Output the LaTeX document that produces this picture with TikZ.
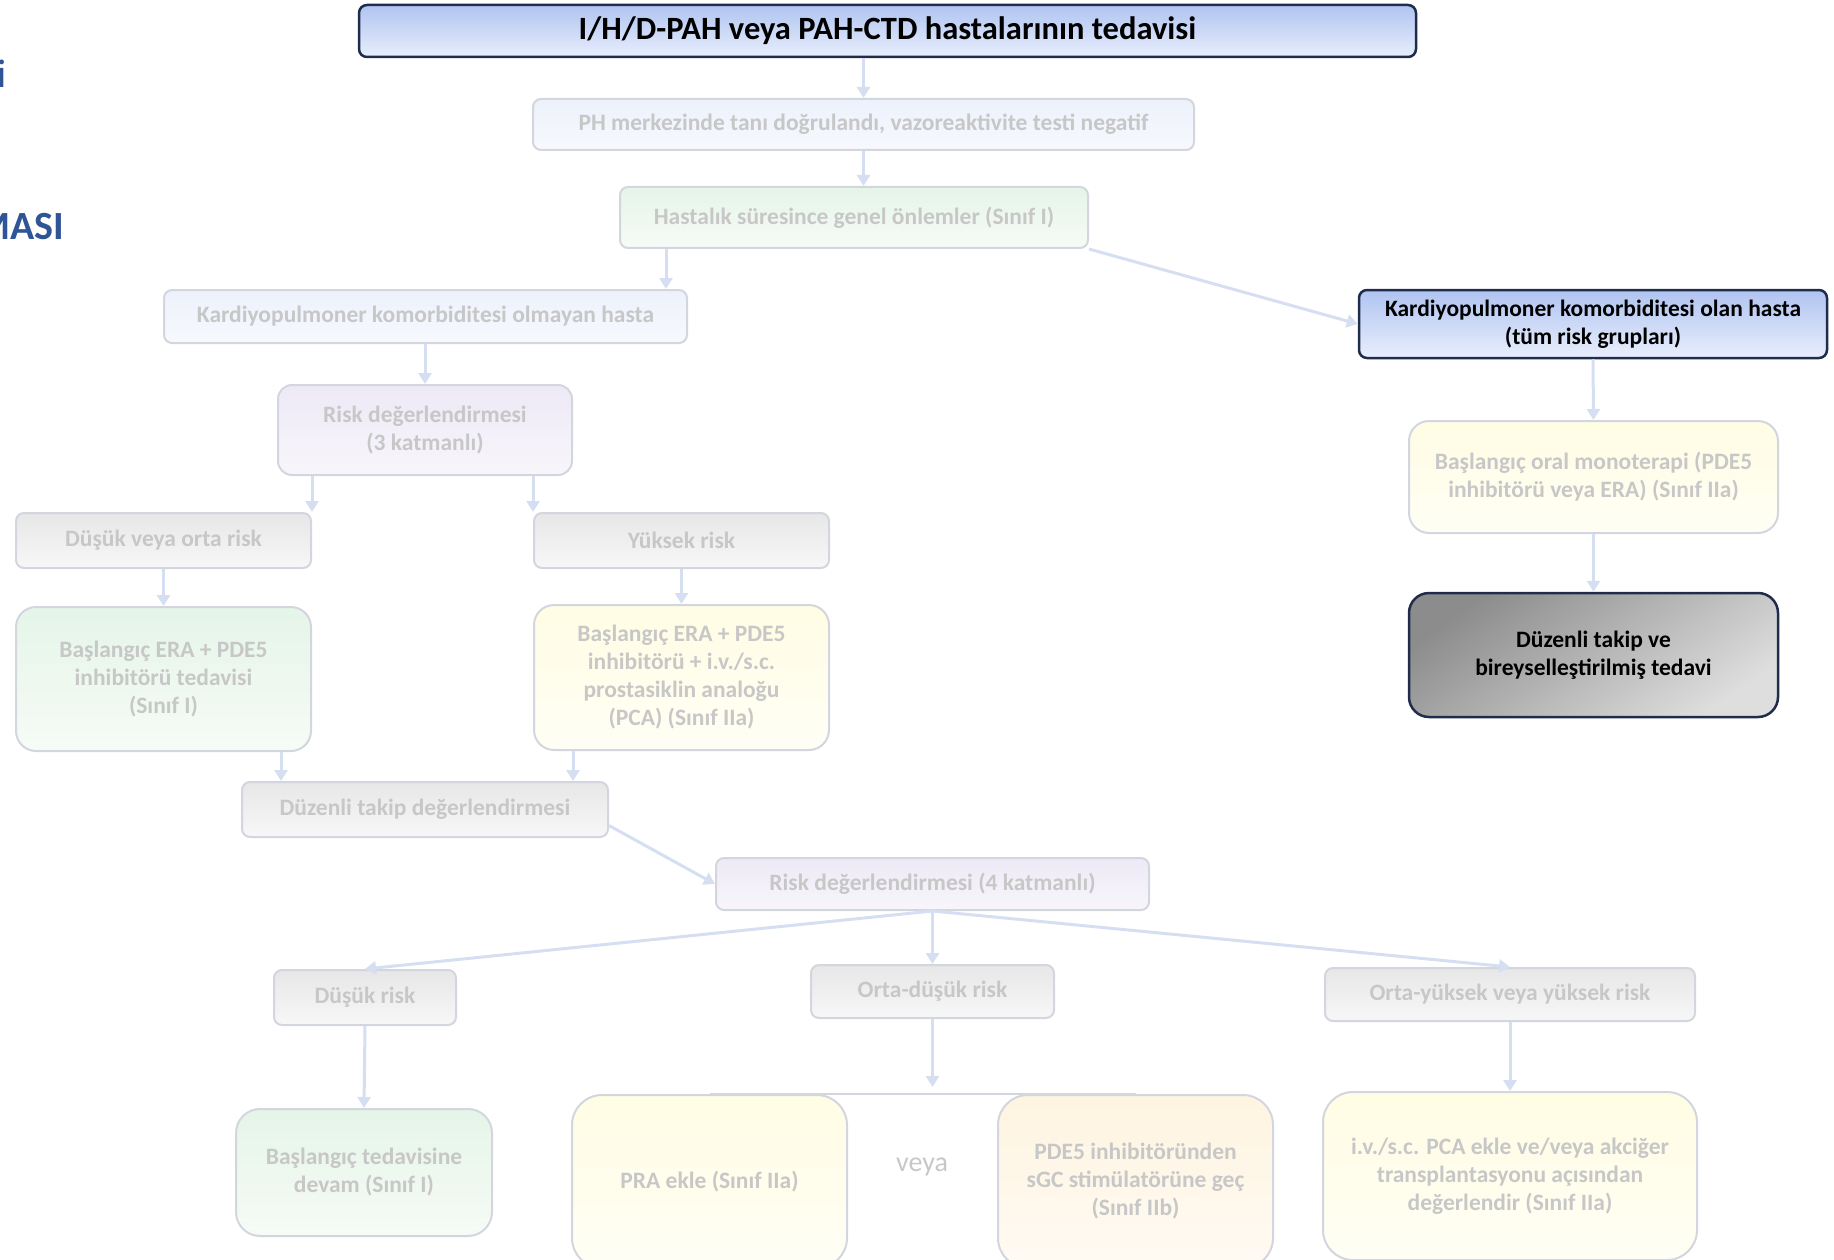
\documentclass[tikz,border=0pt]{standalone}
\usepackage{fontspec}
\setmainfont{Carlito}
\usepackage{xcolor}
\definecolor{arrowblue}{HTML}{D5DFF1}
\definecolor{fadeborder}{HTML}{D3D6DF}
\definecolor{fadetext}{HTML}{C7C7C7}
\definecolor{navyline}{HTML}{1F2C4C}
\definecolor{slideblue}{HTML}{2F5597}
\usetikzlibrary{arrows.meta}
\tikzset{>={Triangle[length=11pt,width=13pt]}}
\tikzset{
  arr/.style={draw=arrowblue, line width=3pt, ->},
  fadebox/.style={rounded corners=8pt, draw=fadeborder, line width=2pt, text=fadetext,
    font=\bfseries\fontsize{23.5}{28}\selectfont, align=center, inner sep=0pt},
  graybox/.style={fadebox, top color={rgb,255:red,231;green,231;blue,231}, bottom color={rgb,255:red,247;green,247;blue,247}},
  greenbox/.style={fadebox, top color={rgb,255:red,229;green,245;blue,232}, bottom color={rgb,255:red,246;green,251;blue,246}},
  yellowbox/.style={fadebox, top color={rgb,255:red,255;green,253;blue,227}, bottom color={rgb,255:red,255;green,254;blue,245}},
  peachbox/.style={fadebox, top color={rgb,255:red,254;green,244;blue,224}, bottom color={rgb,255:red,255;green,250;blue,243}},
  lilacbox/.style={fadebox, top color={rgb,255:red,237;green,233;blue,246}, bottom color={rgb,255:red,248;green,246;blue,251}},
  paleblue/.style={fadebox, top color={rgb,255:red,237;green,241;blue,251}, bottom color={rgb,255:red,247;green,249;blue,254}},
  headbox/.style={rounded corners=8pt, draw=navyline, line width=2.5pt, text=black,
    top color={rgb,255:red,176;green,196;blue,241}, bottom color={rgb,255:red,232;green,238;blue,252},
    font=\bfseries\fontsize{23.5}{28}\selectfont, align=center, inner sep=0pt},
  darkbox/.style={rounded corners=20pt, draw=navyline, line width=2.5pt, text=black,
    top color={rgb,255:red,140;green,140;blue,140}, bottom color={rgb,255:red,222;green,222;blue,222},
    shading angle=35, font=\bfseries\fontsize{23.5}{28}\selectfont, align=center, inner sep=0pt}
}

\begin{document}
\begin{tikzpicture}[x=1pt, y=-1pt]

  \useasboundingbox (0,0) rectangle (1834,1260);

  % cut-off slide title at the left edge
  \node[anchor=base east, inner sep=0pt, text=slideblue, font=\fontsize{40}{48}\selectfont] (cutI) at (7,88) {i};
  \node[anchor=base west, inner sep=0pt, text=slideblue, font=\bfseries\fontsize{40}{48}\selectfont] (cutM) at (-25,240) {MASI};

  % top of the chart
  \node[headbox, minimum width=1057pt, minimum height=52pt, font=\bfseries\fontsize{32.5}{36}\selectfont] (title) at (887.5,31)
    {I/H/D-PAH veya PAH-CTD hastalarının tedavisi};
  \node[paleblue, minimum width=661pt, minimum height=51pt] (ph) at (863.5,124.5)
    {PH merkezinde tanı doğrulandı, vazoreaktivite testi negatif};
  \node[greenbox, minimum width=468pt, minimum height=61pt] (has) at (854,217.5)
    {Hastalık süresince genel önlemler (Sınıf I)};

  % patients without comorbidity
  \node[paleblue, minimum width=523pt, minimum height=53pt] (olmayan) at (425.5,316.5)
    {Kardiyopulmoner komorbiditesi olmayan hasta};
  \node[lilacbox, rounded corners=14pt, minimum width=294pt, minimum height=90pt] (risk3) at (425,430)
    {Risk değerlendirmesi\\(3 katmanlı)};
  \node[graybox, minimum width=295pt, minimum height=55pt] (dvo) at (163.5,540.5) {Düşük veya orta risk};
  \node[graybox, minimum width=295pt, minimum height=55pt] (yuksek) at (681.5,540.5) {Yüksek risk};
  \node[greenbox, rounded corners=20pt, minimum width=295pt, minimum height=144pt] (eraI) at (163.5,679)
    {Başlangıç ERA + PDE5\\inhibitörü tedavisi\\(Sınıf I)};
  \node[yellowbox, rounded corners=20pt, minimum width=295pt, minimum height=145pt] (eraPCA) at (681.5,677.5)
    {Başlangıç ERA + PDE5\\inhibitörü + i.v./s.c.\\prostasiklin analoğu\\(PCA) (Sınıf IIa)};
  \node[graybox, minimum width=366pt, minimum height=55pt] (takip) at (425,809.5) {Düzenli takip değerlendirmesi};
  \node[lilacbox, minimum width=433pt, minimum height=52pt] (risk4) at (932.5,884) {Risk değerlendirmesi (4 katmanlı)};

  % patients with comorbidity
  \node[headbox, minimum width=468pt, minimum height=68pt] (olan) at (1593,324)
    {Kardiyopulmoner komorbiditesi olan hasta\\(tüm risk grupları)};
  \node[yellowbox, rounded corners=20pt, minimum width=369pt, minimum height=112pt] (oral) at (1593.5,477)
    {Başlangıç oral monoterapi (PDE5\\inhibitörü veya ERA) (Sınıf IIa)};
  \node[darkbox, minimum width=369pt, minimum height=124pt] (bireysel) at (1593.5,655)
    {Düzenli takip ve\\bireyselleştirilmiş tedavi};

  % follow-up risk groups
  \node[graybox, minimum width=182pt, minimum height=55pt] (dusuk) at (365,997.5) {Düşük risk};
  \node[graybox, minimum width=243pt, minimum height=53pt] (ortadusuk) at (932.5,991.5) {Orta-düşük risk};
  \node[graybox, minimum width=370pt, minimum height=53pt] (ortayuksek) at (1510,994.5) {Orta-yüksek veya yüksek risk};
  \node[greenbox, rounded corners=24pt, minimum width=256pt, minimum height=127pt] (devam) at (364,1172.5)
    {Başlangıç tedavisine\\devam (Sınıf I)};
  \node[yellowbox, rounded corners=30pt, minimum width=275pt, minimum height=173pt] (pra) at (709.5,1181.5)
    {PRA ekle (Sınıf IIa)};
  \node[peachbox, rounded corners=30pt, minimum width=275pt, minimum height=173pt] (pde) at (1135.5,1181.5)
    {PDE5 inhibitöründen\\sGC stimülatörüne geç\\(Sınıf IIb)};
  \node[yellowbox, rounded corners=30pt, minimum width=374pt, minimum height=168pt] (ivpca) at (1510,1176)
    {i.v./s.c. PCA ekle ve/veya akciğer\\transplantasyonu açısından\\değerlendir (Sınıf IIa)};
  \node[text=fadetext, font=\fontsize{28}{32}\selectfont] (veya) at (922,1167) {veya};

  % connectors
  \draw[arr] (title.south -| ph.north) -- (ph.north);
  \draw[arr] (ph.south) -- (ph.south |- has.north);
  \coordinate (hasleft) at ([xshift=47pt]has.south west);
  \draw[arr] (hasleft) -- (hasleft |- olmayan.north);
  \draw[arr] (has.south east) -- (olan.west);
  \draw[arr] (olmayan.south -| risk3.north) -- (risk3.north);
  \draw[arr] (risk3.south -| dvo.north east) -- (dvo.north east);
  \draw[arr] (risk3.south -| yuksek.north west) -- (yuksek.north west);
  \draw[arr] (dvo.south) -- (eraI.north);
  \draw[arr] (yuksek.south) -- (eraPCA.north);
  \coordinate (tkL) at ([xshift=40pt]takip.north west);
  \coordinate (tkR) at ([xshift=-36pt]takip.north east);
  \draw[arr] (eraI.south -| tkL) -- (tkL);
  \draw[arr] (eraPCA.south -| tkR) -- (tkR);
  \draw[arr] ([yshift=-16pt]takip.east) -- (risk4.west);
  \draw[arr] (risk4.south) -- (dusuk.north);
  \draw[arr] (risk4.south) -- (ortadusuk.north);
  \draw[arr] (risk4.south) -- (ortayuksek.north);
  \draw[arr] (dusuk.south) -- (devam.north);
  \coordinate (brk) at (ortadusuk.south |- pra.north);
  \draw[arr] (ortadusuk.south) -- ([yshift=7pt]brk);
  \draw[fadeborder, line width=2.5pt] (pra.north) -- (pde.north);
  \draw[arr] (ortayuksek.south) -- (ivpca.north);
  \draw[arr] (olan.south) -- (oral.north);
  \draw[arr] (oral.south) -- (bireysel.north);

\end{tikzpicture}
\end{document}
